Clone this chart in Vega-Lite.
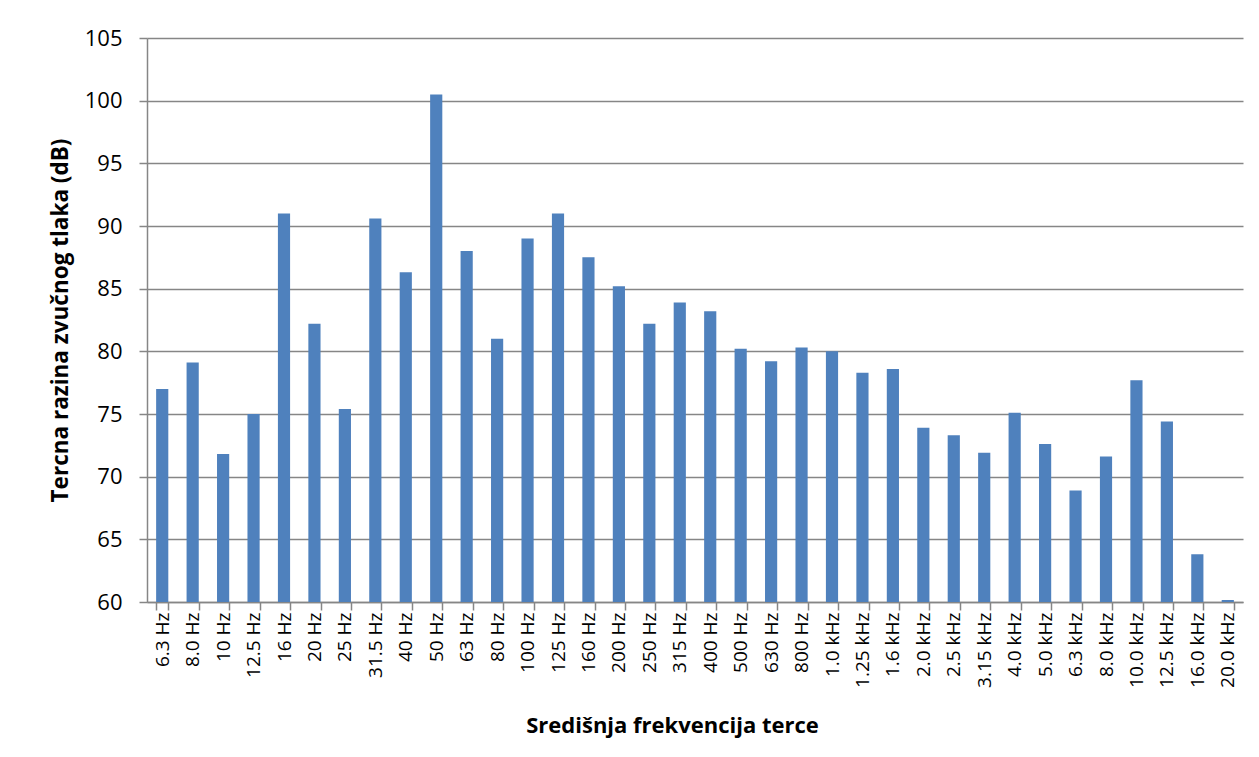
{
  "$schema": "https://vega.github.io/schema/vega-lite/v6.json",
  "autosize": "none",
  "width": 1096,
  "height": 564,
  "padding": {"left": 147, "top": 38, "right": 16, "bottom": 155},
  "background": "white",
  "data": {
    "values": [
      {"f": "6.3 Hz", "db": 77.0},
      {"f": "8.0 Hz", "db": 79.1},
      {"f": "10 Hz", "db": 71.8},
      {"f": "12.5 Hz", "db": 75.0},
      {"f": "16 Hz", "db": 91.0},
      {"f": "20 Hz", "db": 82.2},
      {"f": "25 Hz", "db": 75.4},
      {"f": "31.5 Hz", "db": 90.6},
      {"f": "40 Hz", "db": 86.3},
      {"f": "50 Hz", "db": 100.5},
      {"f": "63 Hz", "db": 88.0},
      {"f": "80 Hz", "db": 81.0},
      {"f": "100 Hz", "db": 89.0},
      {"f": "125 Hz", "db": 91.0},
      {"f": "160 Hz", "db": 87.5},
      {"f": "200 Hz", "db": 85.2},
      {"f": "250 Hz", "db": 82.2},
      {"f": "315 Hz", "db": 83.9},
      {"f": "400 Hz", "db": 83.2},
      {"f": "500 Hz", "db": 80.2},
      {"f": "630 Hz", "db": 79.2},
      {"f": "800 Hz", "db": 80.3},
      {"f": "1.0 kHz", "db": 80.0},
      {"f": "1.25 kHz", "db": 78.3},
      {"f": "1.6 kHz", "db": 78.6},
      {"f": "2.0 kHz", "db": 73.9},
      {"f": "2.5 kHz", "db": 73.3},
      {"f": "3.15 kHz", "db": 71.9},
      {"f": "4.0 kHz", "db": 75.1},
      {"f": "5.0 kHz", "db": 72.6},
      {"f": "6.3 kHz", "db": 68.9},
      {"f": "8.0 kHz", "db": 71.6},
      {"f": "10.0 kHz", "db": 77.7},
      {"f": "12.5 kHz", "db": 74.4},
      {"f": "16.0 kHz", "db": 63.8},
      {"f": "20.0 kHz", "db": 60.15}
    ]
  },
  "mark": {"type": "bar", "color": "#4F81BD", "clip": true},
  "encoding": {
    "x": {
      "field": "f",
      "type": "nominal",
      "sort": null,
      "scale": {"paddingInner": 0.6, "paddingOuter": 0.3},
      "axis": {
        "title": "Središnja frekvencija terce",
        "titleFont": "Open Sans",
        "titleFontWeight": "bold",
        "titleFontSize": 22,
        "titleColor": "black",
        "titleX": 525,
        "titleAlign": "center",
        "titleY": 123,
        "titleBaseline": "middle",
        "labelAngle": -90,
        "labelAlign": "right",
        "labelBaseline": "middle",
        "labelFont": "Open Sans",
        "labelFontSize": 19,
        "labelColor": "black",
        "labelPadding": 2,
        "tickBand": "extent",
        "tickSize": 8,
        "tickColor": "#868686",
        "tickWidth": 1.5,
        "domainColor": "#868686",
        "domainWidth": 1.5,
        "grid": false
      }
    },
    "y": {
      "field": "db",
      "type": "quantitative",
      "scale": {"domain": [60, 105], "nice": false, "zero": false},
      "axis": {
        "title": "Tercna razina zvučnog tlaka (dB)",
        "titleFont": "Open Sans",
        "titleFontWeight": "bold",
        "titleFontSize": 22.5,
        "titleColor": "black",
        "titleX": -87,
        "titleBaseline": "middle",
        "values": [60, 65, 70, 75, 80, 85, 90, 95, 100, 105],
        "labelFont": "Open Sans",
        "labelFontSize": 22,
        "labelColor": "black",
        "labelPadding": 17,
        "tickSize": 8,
        "tickColor": "#868686",
        "tickWidth": 1.5,
        "domainColor": "#868686",
        "domainWidth": 1.5,
        "grid": true,
        "gridColor": "#868686",
        "gridWidth": 1.5
      }
    }
  },
  "config": {"view": {"stroke": null}}
}
